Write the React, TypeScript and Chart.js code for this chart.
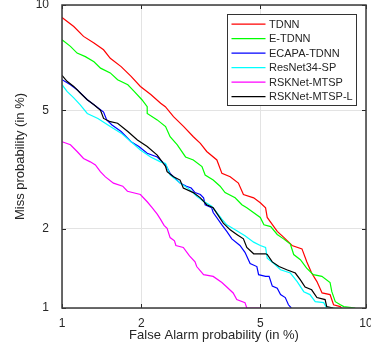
import React, { useEffect, useRef } from 'react';
import { Chart, LineController, LineElement, PointElement, LinearScale } from 'chart.js';

// ---- data (percent) ----
const faTicks = [1, 2, 5, 10];
const missTicks = [1, 2, 5, 10];
const seriesLabels = ['TDNN', 'E-TDNN', 'ECAPA-TDNN', 'ResNet34-SP', 'RSKNet-MTSP', 'RSKNet-MTSP-L'];
const seriesColors = ['#ff0000', '#00ff00', '#0000ff', '#00ffff', '#ff00ff', '#000000'];

const tdnnFa = [1.0, 1.113, 1.215, 1.333, 1.45, 1.537, 1.687, 1.836, 1.985, 2.163, 2.344, 2.435, 2.6, 2.82, 3.04, 3.21, 3.37, 3.64, 3.78, 4.02, 4.27, 4.43, 4.77, 5.0, 5.19, 5.25, 5.63, 5.9, 6.23, 6.66, 6.88, 7.1, 7.35, 7.6, 8.0, 8.18, 8.53, 8.6];
const tdnnMiss = [9.27, 8.76, 8.23, 7.89, 7.55, 7.14, 6.76, 6.33, 5.91, 5.59, 5.26, 5.13, 4.78, 4.45, 4.13, 3.93, 3.7, 3.47, 3.13, 3.05, 2.9, 2.65, 2.58, 2.48, 2.38, 2.2, 1.96, 1.86, 1.74, 1.69, 1.51, 1.37, 1.27, 1.147, 1.13, 1.03, 1.013, 1.0];

const etdnnFa = [1.0, 1.08, 1.147, 1.235, 1.333, 1.412, 1.537, 1.637, 1.786, 1.884, 2.01, 2.1, 2.1, 2.28, 2.44, 2.53, 2.68, 2.86, 3.04, 3.25, 3.33, 3.54, 3.73, 3.87, 4.17, 4.38, 4.54, 5.0, 5.13, 5.38, 5.63, 5.88, 6.16, 6.3, 6.59, 6.87, 7.18, 7.59, 8.0, 8.09, 8.27, 8.54, 8.72, 9.37];
const etdnnMiss = [8.05, 7.72, 7.39, 7.22, 6.98, 6.69, 6.48, 6.19, 5.98, 5.71, 5.39, 5.13, 4.89, 4.67, 4.45, 4.13, 3.89, 3.55, 3.47, 3.3, 3.09, 2.97, 2.83, 2.69, 2.58, 2.44, 2.38, 2.2, 2.07, 2.04, 1.91, 1.84, 1.76, 1.61, 1.54, 1.43, 1.35, 1.33, 1.26, 1.16, 1.06, 1.03, 1.013, 1.0];

const ecapaFa = [1.0, 1.08, 1.147, 1.256, 1.333, 1.45, 1.49, 1.56, 1.687, 1.836, 1.96, 2.1, 2.28, 2.44, 2.53, 2.74, 2.88, 2.99, 3.08, 3.21, 3.29, 3.33, 3.5, 3.54, 3.78, 3.92, 4.07, 4.32, 4.48, 4.65, 4.88, 4.94, 5.19, 5.32, 5.44, 5.63, 5.76, 5.95, 6.08, 6.2];
const ecapaMiss = [6.19, 5.98, 5.78, 5.39, 5.2, 4.94, 4.67, 4.5, 4.29, 3.98, 3.84, 3.65, 3.55, 3.34, 3.13, 2.9, 2.83, 2.79, 2.69, 2.65, 2.58, 2.44, 2.38, 2.29, 2.07, 1.96, 1.84, 1.74, 1.64, 1.49, 1.45, 1.35, 1.33, 1.33, 1.22, 1.197, 1.13, 1.1, 1.03, 1.0];

const resnetFa = [1.0, 1.047, 1.113, 1.18, 1.256, 1.38, 1.537, 1.687, 1.836, 1.985, 2.16, 2.34, 2.44, 2.53, 2.74, 2.95, 3.12, 3.29, 3.5, 3.64, 3.78, 3.92, 4.17, 4.48, 4.77, 5.0, 5.19, 5.25, 5.5, 5.76, 6.16, 6.45, 6.74, 7.02, 7.27, 7.68, 7.83, 8.24];
const resnetMiss = [5.98, 5.71, 5.46, 5.2, 4.89, 4.72, 4.45, 4.24, 3.98, 3.74, 3.55, 3.42, 3.38, 3.09, 2.9, 2.76, 2.61, 2.51, 2.41, 2.29, 2.17, 2.07, 1.985, 1.89, 1.79, 1.74, 1.71, 1.56, 1.49, 1.41, 1.37, 1.27, 1.16, 1.13, 1.06, 1.05, 1.0, 1.0];

const mtspFa = [1.0, 1.08, 1.147, 1.215, 1.29, 1.35, 1.41, 1.47, 1.58, 1.71, 1.78, 1.985, 2.1, 2.19, 2.28, 2.34, 2.41, 2.47, 2.53, 2.62, 2.65, 2.81, 2.95, 3.08, 3.12, 3.29, 3.54, 3.78, 3.92, 4.11, 4.22, 4.48, 4.54, 5.0];
const mtspMiss = [3.98, 3.89, 3.7, 3.51, 3.42, 3.34, 3.17, 3.05, 2.9, 2.83, 2.72, 2.65, 2.5, 2.38, 2.26, 2.17, 2.06, 2.01, 1.86, 1.81, 1.74, 1.71, 1.59, 1.51, 1.45, 1.35, 1.33, 1.26, 1.21, 1.147, 1.08, 1.05, 1.0, 1.0];

const mtspLFa = [1.0, 1.047, 1.113, 1.18, 1.256, 1.333, 1.412, 1.45, 1.537, 1.637, 1.786, 1.936, 2.1, 2.28, 2.44, 2.47, 2.6, 2.74, 2.81, 3.04, 3.21, 3.37, 3.54, 3.82, 4.02, 4.22, 4.43, 4.54, 4.77, 5.19, 5.25, 5.44, 5.7, 6.01, 6.37, 6.59, 6.8, 7.1, 7.35, 7.75, 7.83, 8.16];
const mtspLMiss = [6.375, 6.12, 5.91, 5.65, 5.39, 5.2, 5.0, 4.72, 4.61, 4.56, 4.29, 4.03, 3.84, 3.6, 3.3, 3.17, 3.05, 2.97, 2.79, 2.69, 2.58, 2.44, 2.38, 2.1, 1.985, 1.91, 1.84, 1.71, 1.62, 1.62, 1.61, 1.51, 1.45, 1.41, 1.37, 1.29, 1.21, 1.18, 1.1, 1.08, 1.013, 1.0];

const seriesFa = [tdnnFa, etdnnFa, ecapaFa, resnetFa, mtspFa, mtspLFa];
const seriesMiss = [tdnnMiss, etdnnMiss, ecapaMiss, resnetMiss, mtspMiss, mtspLMiss];

// ---- probit (normal deviate) scale for DET plots ----
function normInv(p: number): number {
  const a = [-3.969683028665376e1, 2.209460984245205e2, -2.759285104469687e2, 1.38357751867269e2, -3.066479806614716e1, 2.506628277459239];
  const b = [-5.447609879822406e1, 1.615858368580409e2, -1.556989798598866e2, 6.680131188771972e1, -1.328068155288572e1];
  const c = [-7.784894002430293e-3, -3.223964580411365e-1, -2.400758277161838, -2.549732539343734, 4.374664141464968, 2.938163982698783];
  const d = [7.784695709041462e-3, 3.224671290700398e-1, 2.445134137142996, 3.754408661907416];
  const pl = 0.02425;
  if (p < pl) {
    const q = Math.sqrt(-2 * Math.log(p));
    return (((((c[0] * q + c[1]) * q + c[2]) * q + c[3]) * q + c[4]) * q + c[5]) / ((((d[0] * q + d[1]) * q + d[2]) * q + d[3]) * q + 1);
  }
  if (p <= 1 - pl) {
    const q = p - 0.5, r = q * q;
    return (((((a[0] * r + a[1]) * r + a[2]) * r + a[3]) * r + a[4]) * r + a[5]) * q / (((((b[0] * r + b[1]) * r + b[2]) * r + b[3]) * r + b[4]) * r + 1);
  }
  const q = Math.sqrt(-2 * Math.log(1 - p));
  return -(((((c[0] * q + c[1]) * q + c[2]) * q + c[3]) * q + c[4]) * q + c[5]) / ((((d[0] * q + d[1]) * q + d[2]) * q + d[3]) * q + 1);
}
function normCdf(z: number): number {
  const t = 1 / (1 + 0.2316419 * Math.abs(z));
  const dd = 0.3989423 * Math.exp(-z * z / 2);
  const p = dd * t * (0.3193815 + t * (-0.3565638 + t * (1.781478 + t * (-1.821256 + t * 1.330274))));
  return z > 0 ? 1 - p : p;
}

class ProbitScale extends (LinearScale as any) {
  static id = 'probit';
  static defaults = {};
  buildTicks() {
    return [];
  }
  getPixelForValue(v: number) {
    if (v === null || v === undefined || isNaN(v)) return NaN;
    const lo = normInv(this.min / 100), hi = normInv(this.max / 100);
    return this.getPixelForDecimal((normInv(v / 100) - lo) / (hi - lo));
  }
  getValueForPixel(px: number) {
    const lo = normInv(this.min / 100), hi = normInv(this.max / 100);
    const dec = this.getDecimalForPixel(px);
    return normCdf(lo + dec * (hi - lo)) * 100;
  }
}

Chart.register(LineController, LineElement, PointElement, LinearScale, ProbitScale as any);

const FONT = '"Liberation Sans", Arial, Helvetica, sans-serif';
const TEXT = '#262626';

const framePlugin = {
  id: 'detFrame',
  afterDraw(chart: any) {
    const { ctx, chartArea } = chart;
    const { left, right, top, bottom } = chartArea;
    const xs = chart.scales.x, ys = chart.scales.y;
    ctx.save();
    ctx.strokeStyle = '#262626';
    ctx.lineWidth = 1;
    ctx.beginPath();
    faTicks.forEach((v) => {
      const px = Math.round(xs.getPixelForValue(v)) + 0.5;
      ctx.moveTo(px, bottom); ctx.lineTo(px, bottom - 4);
      ctx.moveTo(px, top); ctx.lineTo(px, top + 4);
    });
    missTicks.forEach((v) => {
      const py = Math.round(ys.getPixelForValue(v)) + 0.5;
      ctx.moveTo(left, py); ctx.lineTo(left + 4, py);
      ctx.moveTo(right, py); ctx.lineTo(right - 4, py);
    });
    ctx.stroke();
    ctx.strokeStyle = '#3a3a3a';
    ctx.lineWidth = 1.5;
    ctx.strokeRect(left, top, right - left, bottom - top);

    // legend inside the plot, top right
    ctx.font = '11px ' + FONT;
    const labels = chart.data.datasets.map((d: any) => d.label);
    const maxW = Math.max(...labels.map((l: string) => ctx.measureText(l).width));
    const boxW = Math.round(41 + maxW + 4);
    const rowH = 14.5;
    const boxH = 91;
    const bx = Math.round(right - 10 - boxW) + 0.5;
    const by = Math.round(top + 9) + 0.5;
    ctx.fillStyle = '#ffffff';
    ctx.fillRect(bx, by, boxW, boxH);
    ctx.strokeStyle = '#333333';
    ctx.lineWidth = 1;
    ctx.strokeRect(bx, by, boxW, boxH);
    ctx.textBaseline = 'middle';
    ctx.textAlign = 'left';
    chart.data.datasets.forEach((d: any, i: number) => {
      const cy = by + 9.7 + i * rowH;
      ctx.strokeStyle = d.borderColor;
      ctx.lineWidth = 1.2;
      ctx.beginPath();
      ctx.moveTo(bx + 4, cy);
      ctx.lineTo(bx + 38, cy);
      ctx.stroke();
      ctx.fillStyle = TEXT;
      ctx.fillText(d.label, bx + 41.5, cy + 0.5);
    });
    ctx.restore();
  },
};

const noPad = (s: any) => {
  s.paddingLeft = 0; s.paddingRight = 0; s.paddingTop = 0; s.paddingBottom = 0;
};

export default function App() {
  const ref = useRef<HTMLCanvasElement>(null);
  useEffect(() => {
    if (!ref.current) return;
    const datasets = seriesLabels.map((label, i) => ({
      label,
      data: seriesFa[i].map((x, k) => ({ x, y: seriesMiss[i][k] })),
      borderColor: seriesColors[i],
      backgroundColor: seriesColors[i],
      borderWidth: 1.2,
      pointRadius: 0,
      fill: false,
      tension: 0,
      order: seriesLabels.length - i,
    }));
    const chart = new Chart(ref.current, {
      type: 'line',
      data: { datasets },
      options: {
        responsive: false,
        animation: false,
        events: [],
        layout: { padding: { left: 0, right: 5, top: 5, bottom: 0 } },
        plugins: { legend: { display: false }, tooltip: { enabled: false } } as any,
        scales: {
          x: {
            type: 'probit' as any,
            position: 'bottom',
            min: 1,
            max: 10,
            afterBuildTicks: (s: any) => { s.ticks = faTicks.map((v) => ({ value: v })); },
            afterFit: (s: any) => { s.height = 47; noPad(s); },
            grid: { color: '#e3e3e3', lineWidth: 1, drawTicks: false },
            border: { display: false },
            ticks: {
              autoSkip: false, maxRotation: 0, padding: 8, color: TEXT,
              font: { family: FONT, size: 12 },
              callback: (v: any) => String(v),
            },
            title: {
              display: true, text: 'False Alarm probability (in %)', color: TEXT,
              font: { family: FONT, size: 13 }, padding: { top: 0, bottom: 12 },
            },
          } as any,
          y: {
            type: 'probit' as any,
            position: 'left',
            min: 1,
            max: 10,
            afterBuildTicks: (s: any) => { s.ticks = missTicks.map((v) => ({ value: v })); },
            afterFit: (s: any) => { s.width = 62; noPad(s); },
            grid: { color: '#e3e3e3', lineWidth: 1, drawTicks: false },
            border: { display: false },
            ticks: {
              autoSkip: false, padding: 13, color: TEXT,
              font: { family: FONT, size: 12 },
              callback: (v: any) => String(v),
            },
            title: {
              display: true, text: 'Miss probability (in %)', color: TEXT,
              font: { family: FONT, size: 13 }, padding: { top: 13, bottom: 0 },
            },
          } as any,
        },
      },
      plugins: [framePlugin],
    });
    return () => chart.destroy();
  }, []);
  return (
    <div style={{ position: 'fixed', left: 0, top: 0, width: 371, height: 355, background: '#ffffff' }}>
      <canvas ref={ref} width={371} height={355} style={{ display: 'block' }} />
    </div>
  );
}
